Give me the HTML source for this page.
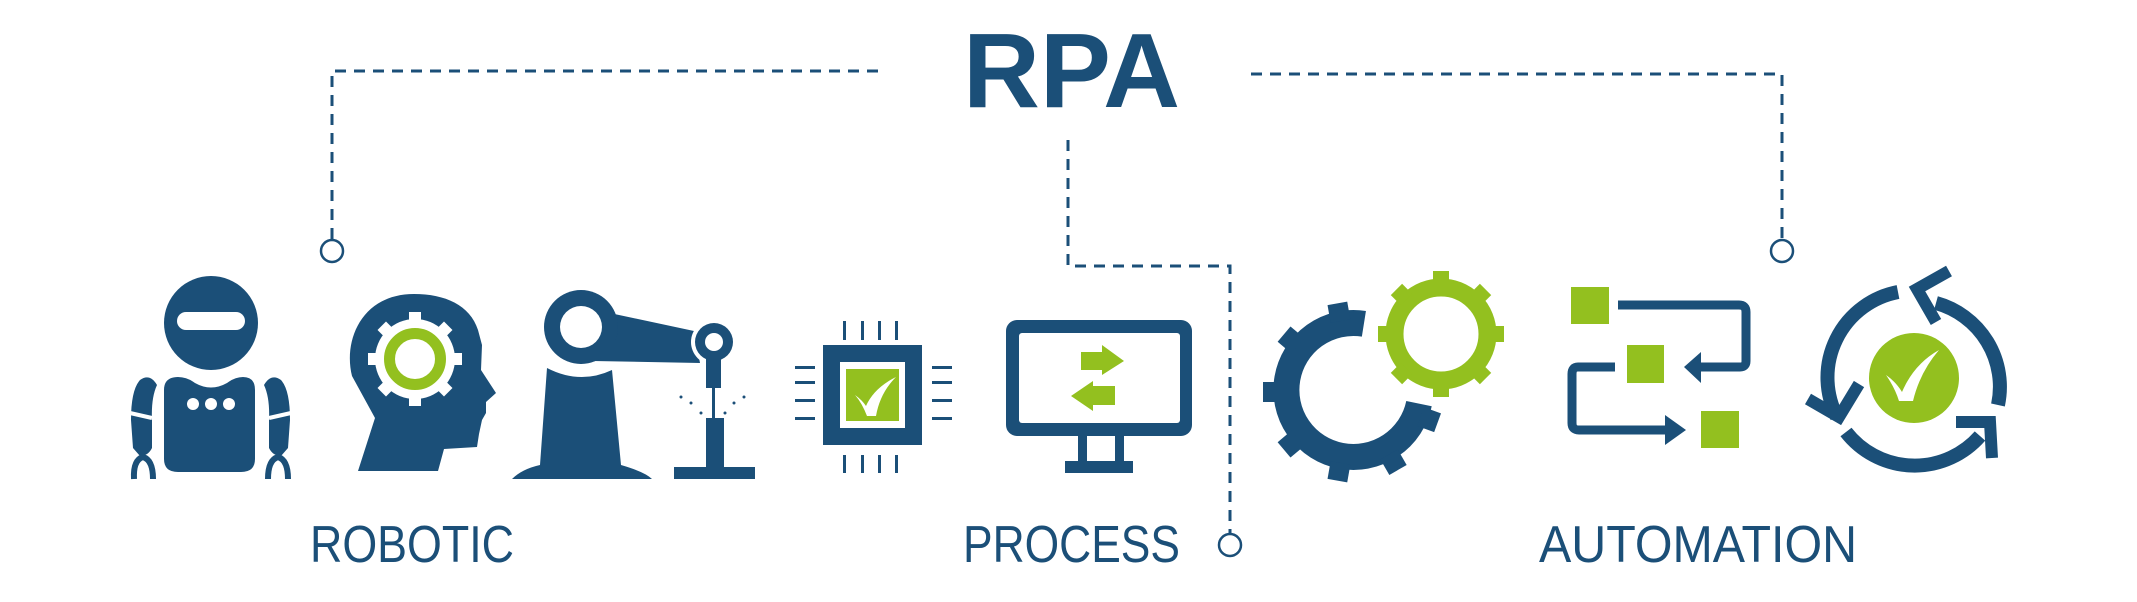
<!DOCTYPE html>
<html><head><meta charset="utf-8"><style>
html,body{margin:0;padding:0;background:#fff;}
svg{display:block;}
</style></head><body>
<svg width="2137" height="602" viewBox="0 0 2137 602" xmlns="http://www.w3.org/2000/svg">
<defs></defs>
<g fill="none" stroke="#1b4f78" stroke-width="3" stroke-dasharray="11 8">
  <path d="M332,239 V71 H884"/>
  <path d="M1251,74 H1782 V239"/>
  <path d="M1068,140 V266 H1230 V533"/>
</g>
<g fill="#fff" stroke="#1b4f78" stroke-width="2.5">
  <circle cx="332" cy="251" r="11"/>
  <circle cx="1782" cy="251" r="11"/>
  <circle cx="1230" cy="545" r="11"/>
</g>

<text x="963" y="107" font-family="Liberation Sans, sans-serif" font-weight="bold" font-size="106" fill="#1b4f78" textLength="217" lengthAdjust="spacingAndGlyphs">RPA</text>

<g font-family="Liberation Sans, sans-serif" font-size="52" fill="#1b4f78">
  <text x="310" y="562" textLength="204" lengthAdjust="spacingAndGlyphs">ROBOTIC</text>
  <text x="963" y="562" textLength="217" lengthAdjust="spacingAndGlyphs">PROCESS</text>
  <text x="1539" y="562" textLength="318" lengthAdjust="spacingAndGlyphs">AUTOMATION</text>
</g>

<!-- Robot -->
<g fill="#1b4f78">
  <circle cx="211" cy="323" r="47"/>
  <rect x="177" y="312" width="68" height="18" rx="9" fill="#fff"/>
  <path d="M164,390 Q164,377 178,377 Q187,377 195,383 Q211,392 227,383 Q235,377 243,377 Q255,377 255,390 L255,459 Q255,472 241,472 L178,472 Q164,472 164,459 Z"/>
  <circle cx="193" cy="404" r="6" fill="#fff"/>
  <circle cx="211" cy="404" r="6" fill="#fff"/>
  <circle cx="229" cy="404" r="6" fill="#fff"/>
  <path d="M131,420 Q131,390 140,380 Q150,373 157,385 Q151,398 152,420 L152,448 Q148,456 140,456 L133,448 Z"/>
  <path d="M290,420 Q290,390 281,380 Q271,373 264,385 Q270,398 269,420 L269,448 Q273,456 281,456 L288,448 Z"/>
  <path d="M130,413 L152,418" stroke="#fff" stroke-width="4"/>
  <path d="M291,413 L269,418" stroke="#fff" stroke-width="4"/>
  <path d="M134,479 Q133,460 143,457 Q153,460 153,479" fill="none" stroke="#1b4f78" stroke-width="6"/>
  <path d="M268,479 Q268,460 278,457 Q288,460 288,479" fill="none" stroke="#1b4f78" stroke-width="6"/>
</g>

<!-- Head with gear -->
<path fill="#1b4f78" d="M414,294 C445,294 470,305 478,330 L482,345 L481,370 L496,393 L486,402 L486,413 L482,420 L479,434 L477,447 L444,449 L438,471 L358,471 L375,418 L352,376 C343,340 362,294 414,294 Z"/>
<g fill="#fff">
  <circle cx="415" cy="359" r="40"/>
  <g>
    <rect x="409" y="312" width="12" height="12" transform="rotate(0 415 359)"/>
    <rect x="409" y="312" width="12" height="12" transform="rotate(45 415 359)"/>
    <rect x="409" y="312" width="12" height="12" transform="rotate(90 415 359)"/>
    <rect x="409" y="312" width="12" height="12" transform="rotate(135 415 359)"/>
    <rect x="409" y="312" width="12" height="12" transform="rotate(180 415 359)"/>
    <rect x="409" y="312" width="12" height="12" transform="rotate(225 415 359)"/>
    <rect x="409" y="312" width="12" height="12" transform="rotate(270 415 359)"/>
    <rect x="409" y="312" width="12" height="12" transform="rotate(315 415 359)"/>
  </g>
</g>
<circle cx="415" cy="359" r="25.5" fill="none" stroke="#93c01f" stroke-width="11"/>

<!-- Robot arm -->
<g fill="#1b4f78">
  <path d="M547,368 Q580,385 612,370 L621,465 Q645,472 652,479 L512,479 Q522,469 540,465 Z"/>
  <path d="M605,312 L694,331 L700,363 L593,361 Z"/>
  <circle cx="581" cy="327" r="37"/>
  <circle cx="581" cy="327" r="21" fill="#fff"/>
  <circle cx="714" cy="342" r="23" fill="#fff"/>
  <circle cx="714" cy="342" r="19"/>
  <circle cx="714" cy="342" r="9" fill="#fff"/>
  <rect x="706" y="358" width="15" height="30"/>
  <rect x="712" y="388" width="3" height="30"/>
  <rect x="706" y="418" width="18" height="50"/>
  <rect x="674" y="467" width="81" height="12"/>
  <circle cx="681" cy="397" r="1.5"/><circle cx="691" cy="403" r="1.5"/><circle cx="701" cy="413" r="1.5"/>
  <circle cx="725" cy="413" r="1.5"/><circle cx="734" cy="403" r="1.5"/><circle cx="744" cy="397" r="1.5"/>
</g>

<!-- Chip -->
<g fill="#1b4f78">
  <rect x="823" y="345" width="99" height="100"/>
  <rect x="840" y="362" width="65" height="66" fill="#fff"/>
  <rect x="846" y="369" width="53" height="52" fill="#93c01f"/>
  <path fill="#fff" d="M855,395 Q862,400 866,406 Q874,388 896,377 Q880,393 876,416 L867,416 Q862,403 855,395 Z"/>
  <rect x="843" y="321" width="3" height="19"/><rect x="861" y="321" width="3" height="19"/><rect x="878" y="321" width="3" height="19"/><rect x="895" y="321" width="3" height="19"/>
  <rect x="843" y="455" width="3" height="18"/><rect x="861" y="455" width="3" height="18"/><rect x="878" y="455" width="3" height="18"/><rect x="895" y="455" width="3" height="18"/>
  <rect x="795" y="366" width="20" height="3"/><rect x="795" y="381" width="20" height="3"/><rect x="795" y="399" width="20" height="3"/><rect x="795" y="417" width="20" height="3"/>
  <rect x="932" y="366" width="20" height="3"/><rect x="932" y="381" width="20" height="3"/><rect x="932" y="399" width="20" height="3"/><rect x="932" y="417" width="20" height="3"/>
</g>

<!-- Monitor -->
<g fill="#1b4f78">
  <rect x="1006" y="320" width="186" height="116" rx="11"/>
  <rect x="1019" y="333" width="161" height="90" rx="3" fill="#fff"/>
  <rect x="1078" y="436" width="46" height="25"/>
  <rect x="1087" y="436" width="28" height="25" fill="#fff"/>
  <rect x="1065" y="461" width="68" height="12"/>
  <path fill="#93c01f" d="M1081,352 H1102 V345 L1124,361 L1102,375 V370 H1081 Z"/>
  <path fill="#93c01f" d="M1115,386 H1093 V381 L1071,396 L1093,411 V405 H1115 Z"/>
</g>

<!-- Gears -->
<g fill="#1b4f78">
  <path d="M1363.9,323.8 A67,67 0 1 0 1419,403.6" fill="none" stroke="#1b4f78" stroke-width="26"/>
  <g>
    <rect x="1343" y="302" width="20" height="18" transform="rotate(-10 1353 392)"/>
    <rect x="1343" y="302" width="20" height="18" transform="rotate(-50 1353 392)"/>
    <rect x="1343" y="302" width="20" height="18" transform="rotate(-90 1353 392)"/>
    <rect x="1343" y="302" width="20" height="18" transform="rotate(-130 1353 392)"/>
    <rect x="1343" y="302" width="20" height="18" transform="rotate(-170 1353 392)"/>
    <rect x="1343" y="302" width="20" height="18" transform="rotate(150 1353 392)"/>
    <rect x="1343" y="302" width="20" height="18" transform="rotate(110 1353 392)"/>
  </g>
</g>
<g fill="#93c01f">
  <circle cx="1441" cy="334" r="46.5" fill="none" stroke="#93c01f" stroke-width="18"/>
  <rect x="1433" y="271" width="16" height="14" transform="rotate(0 1441 334)"/>
  <rect x="1433" y="271" width="16" height="14" transform="rotate(45 1441 334)"/>
  <rect x="1433" y="271" width="16" height="14" transform="rotate(90 1441 334)"/>
  <rect x="1433" y="271" width="16" height="14" transform="rotate(135 1441 334)"/>
  <rect x="1433" y="271" width="16" height="14" transform="rotate(180 1441 334)"/>
  <rect x="1433" y="271" width="16" height="14" transform="rotate(225 1441 334)"/>
  <rect x="1433" y="271" width="16" height="14" transform="rotate(270 1441 334)"/>
  <rect x="1433" y="271" width="16" height="14" transform="rotate(315 1441 334)"/>
</g>

<!-- Flow chart -->
<g>
  <rect x="1571" y="287" width="38" height="37" fill="#93c01f"/>
  <rect x="1627" y="345" width="37" height="38" fill="#93c01f"/>
  <rect x="1701" y="411" width="38" height="37" fill="#93c01f"/>
  <path d="M1618,305 H1739 Q1746,305 1746,312 V361 Q1746,367 1740,367 H1698" fill="none" stroke="#1b4f78" stroke-width="9"/>
  <path d="M1684,367 L1701,352 V383 Z" fill="#1b4f78"/>
  <path d="M1615,367 H1578 Q1572,367 1572,374 V423 Q1572,430 1579,430 H1670" fill="none" stroke="#1b4f78" stroke-width="9"/>
  <path d="M1686,430 L1665,415 V445 Z" fill="#1b4f78"/>
</g>

<!-- Cycle -->
<g fill="none" stroke="#1b4f78" stroke-width="14">
  <path d="M1898,292 A87,87 0 0 0 1837,417"/>
  <path d="M1936,303 A87,87 0 0 1 1998,405"/>
  <path d="M1846,432 A87,87 0 0 0 1980,436"/>
  <polyline points="1808,399 1839,417 1859,384" stroke-width="12"/>
  <polyline points="1949,271 1917,289 1936,322" stroke-width="12"/>
  <polyline points="1956,422 1990,422 1992,458" stroke-width="12"/>
</g>
<circle cx="1914" cy="378" r="45" fill="#93c01f"/>
<path fill="#fff" d="M1886,375 Q1896,382 1902,392 Q1914,364 1939,350 Q1920,372 1913,401 L1899,401 Q1895,388 1886,375 Z"/>
</svg>
</body></html>
